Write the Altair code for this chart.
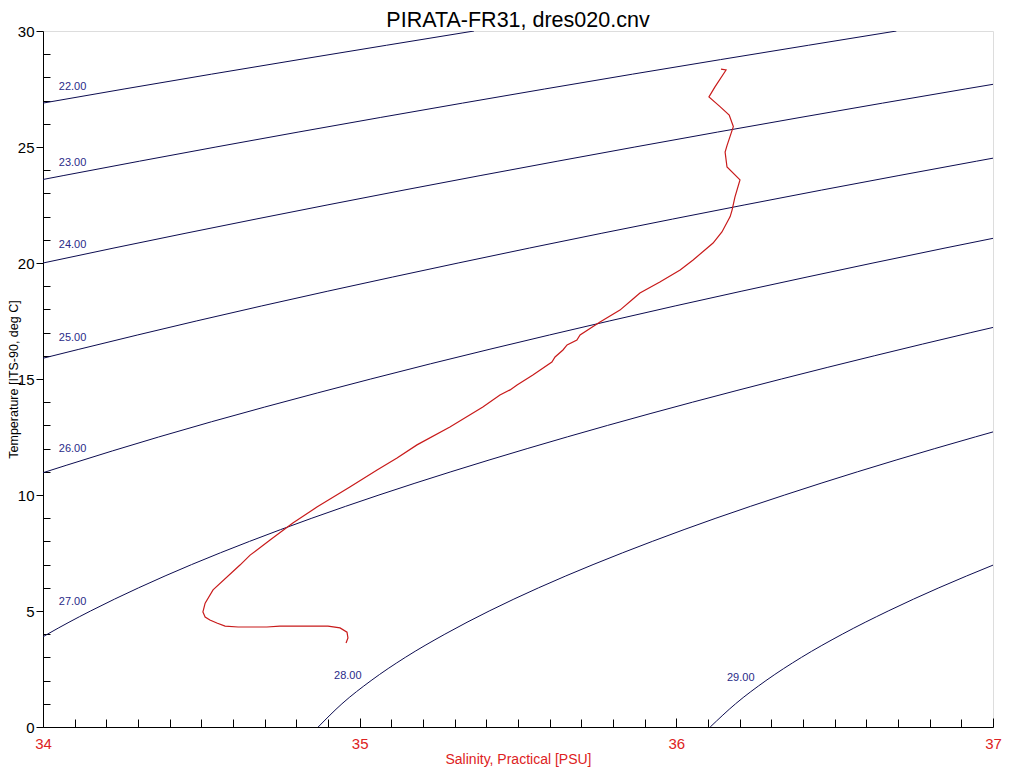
import altair as alt
import pandas as pd

# ---------------- data ----------------
# Isopycnal contours (sigma-0), points along each contour: temperature / salinity
iso_levels = ["22.00", "23.00", "24.00", "25.00", "26.00", "27.00", "28.00", "29.00"]

iso22_T = [25.0, 27.5, 30.0]
iso22_S = [33.224, 34.256, 35.361]
iso23_T = [22.5, 25.0, 27.5, 30.0]
iso23_S = [33.581, 34.546, 35.584, 36.695]
iso24_T = [17.5, 20.0, 22.5, 25.0, 27.5, 30.0]
iso24_S = [33.181, 34.000, 34.897, 35.869, 36.912, 38.028]
iso25_T = [15.0, 17.5, 20.0, 22.5, 25.0]
iso25_S = [33.738, 34.484, 35.311, 36.214, 37.192]
iso26_T = [10.0, 12.5, 15.0, 17.5, 20.0, 22.5]
iso26_S = [33.781, 34.365, 35.035, 35.788, 36.621, 37.531]
iso27_T = [0, 2, 3, 4, 5, 6, 7, 8, 9, 10, 11, 12, 13, 14, 15, 16, 17, 18]
iso27_S = [33.630, 33.790, 33.894, 34.014, 34.150, 34.302, 34.469, 34.652, 34.849,
           35.061, 35.288, 35.529, 35.783, 36.051, 36.332, 36.625, 36.930, 37.247]
iso28_T = [0, 1, 2, 3, 4, 5, 6, 7, 8, 9, 10, 11, 12, 13]
iso28_S = [34.869, 34.944, 35.036, 35.144, 35.269, 35.409, 35.565, 35.737, 35.924,
           36.125, 36.342, 36.572, 36.816, 37.073]
iso29_T = [0, 1, 2, 3, 4, 5, 6, 7]
iso29_S = [36.107, 36.187, 36.283, 36.395, 36.524, 36.669, 36.829, 37.004]

# contour label positions (left edge of text, vertical centre)
label_S = [34.05, 34.05, 34.05, 34.05, 34.05, 34.05, 34.919, 36.160]
label_T = [27.59, 24.31, 20.78, 16.77, 11.97, 5.39, 2.20, 2.11]

# CTD profile (surface to bottom)
profile_S = [36.141, 36.157, 36.122, 36.103, 36.138, 36.167, 36.180, 36.160, 36.154, 36.160,
             36.201, 36.185, 36.176, 36.170, 36.144, 36.116, 36.053, 36.012, 35.948, 35.885,
             35.863, 35.822, 35.759, 35.696, 35.686, 35.655, 35.642, 35.617, 35.607, 35.547,
             35.497, 35.475, 35.443, 35.389, 35.285, 35.181, 35.118, 35.055, 34.969, 34.865,
             34.789, 34.717, 34.654, 34.622, 34.537, 34.512, 34.505, 34.512, 34.527, 34.549,
             34.575, 34.616, 34.707, 34.748, 34.900, 34.938, 34.960, 34.963, 34.957]
profile_T = [28.36, 28.32, 27.59, 27.16, 26.74, 26.38, 25.88, 25.06, 24.78, 24.14,
             23.58, 22.84, 22.28, 22.00, 21.34, 20.86, 20.13, 19.70, 19.18, 18.71,
             18.45, 17.97, 17.46, 16.90, 16.68, 16.47, 16.25, 15.95, 15.73, 15.17,
             14.74, 14.53, 14.31, 13.79, 12.93, 12.16, 11.59, 11.08, 10.34, 9.48,
             8.79, 8.06, 7.41, 6.98, 5.91, 5.34, 4.96, 4.74, 4.61, 4.48,
             4.35, 4.31, 4.31, 4.35, 4.35, 4.27, 4.09, 3.84, 3.62]

# axis tick values
x_major = [34, 35, 36, 37]
x_minor = [round(34 + i * 0.1, 1) for i in range(1, 30) if i % 10 != 0]
y_major = [0, 5, 10, 15, 20, 25, 30]
y_minor = [v for v in range(1, 30) if v % 5 != 0]

# ---------------- tables ----------------
iso_T = [iso22_T, iso23_T, iso24_T, iso25_T, iso26_T, iso27_T, iso28_T, iso29_T]
iso_S = [iso22_S, iso23_S, iso24_S, iso25_S, iso26_S, iso27_S, iso28_S, iso29_S]
rows = []
for lev, Ts, Ss in zip(iso_levels, iso_T, iso_S):
    for t, s in zip(Ts, Ss):
        rows.append({"sigma": lev, "S": s, "T": t})
iso_df = pd.DataFrame(rows)
lab_df = pd.DataFrame({"S": label_S, "T": label_T, "txt": iso_levels})
prof_df = pd.DataFrame({"S": profile_S, "T": profile_T, "i": list(range(len(profile_S)))})

FONT = "Liberation Sans"
RED = "#dd2222"
NAVY = "#0c0c50"

xs = alt.Scale(domain=[34, 37], nice=False, zero=False)
ys = alt.Scale(domain=[0, 30], nice=False, zero=False)

ax_x_main = alt.Axis(orient="bottom", values=x_major, format="d", ticks=False, labelPadding=9,
                     labelColor=RED, labelFontSize=15, labelFont=FONT, labelFlush=False,
                     labelOverlap=False, title="Salinity, Practical [PSU]", titleColor=RED,
                     titleFontSize=14, titleFont=FONT, titleFontWeight="normal", titlePadding=1,
                     domainColor="black", grid=False)
ax_y_main = alt.Axis(orient="left", values=y_major, format="d", tickSize=7, labelPadding=2,
                     tickColor="black", labelColor="black", labelFontSize=15, labelFont=FONT,
                     labelFlush=False, labelOverlap=False,
                     title="Temperature [ITS-90, deg C]", titleColor="black", titleFontSize=12.5,
                     titleFont=FONT, titleFontWeight="normal", titleAngle=270, titleX=-25.7,
                     titleY=348, titleAlign="center", titleBaseline="alphabetic",
                     domainColor="black", grid=False)
ax_x_minor = alt.Axis(orient="bottom", offset=-8, values=x_minor, tickSize=8, tickColor="black",
                      labels=False, domain=False, grid=False, title=None)
ax_x_major_in = alt.Axis(orient="bottom", offset=-9, values=x_major, tickSize=9, tickColor="black",
                         labels=False, domain=False, grid=False, title=None)
ax_y_minor = alt.Axis(orient="left", offset=-7, values=y_minor, tickSize=7, tickColor="black",
                      labels=False, domain=False, grid=False, title=None)

iso = alt.Chart(iso_df).mark_line(color=NAVY, strokeWidth=1, clip=True, interpolate="monotone").encode(
    x=alt.X("S:Q", scale=xs, axis=ax_x_main),
    y=alt.Y("T:Q", scale=ys, axis=ax_y_main),
    detail="sigma:N",
)

prof = alt.Chart(prof_df).mark_line(color="#c81a1a", strokeWidth=1.2, clip=True).encode(
    x=alt.X("S:Q", scale=xs, axis=ax_x_minor),
    y=alt.Y("T:Q", scale=ys, axis=ax_y_minor),
    order="i:Q",
)

labels = alt.Chart(lab_df).mark_text(align="left", baseline="middle", fontSize=11, font=FONT,
                                     color="#2a2a88").encode(
    x=alt.X("S:Q", scale=xs, axis=ax_x_major_in),
    y=alt.Y("T:Q", scale=ys, axis=None),
    text="txt:N",
)

chart = alt.layer(iso, labels, prof).resolve_axis(x="independent", y="independent").properties(
    width=950, height=696,
    autosize=alt.AutoSizeParams(type="none"),
    padding={"left": 35, "top": 23, "right": 23, "bottom": 40},
    title=alt.TitleParams("PIRATA-FR31, dres020.cnv", fontSize=21.5, font=FONT,
                          fontWeight="normal", color="black", anchor="middle",
                          frame="group", baseline="top", offset=-7),
).configure_view(stroke="black", strokeWidth=1).configure(background="white")

chart.save("out.html", embed_options={"renderer": "svg", "actions": False})
